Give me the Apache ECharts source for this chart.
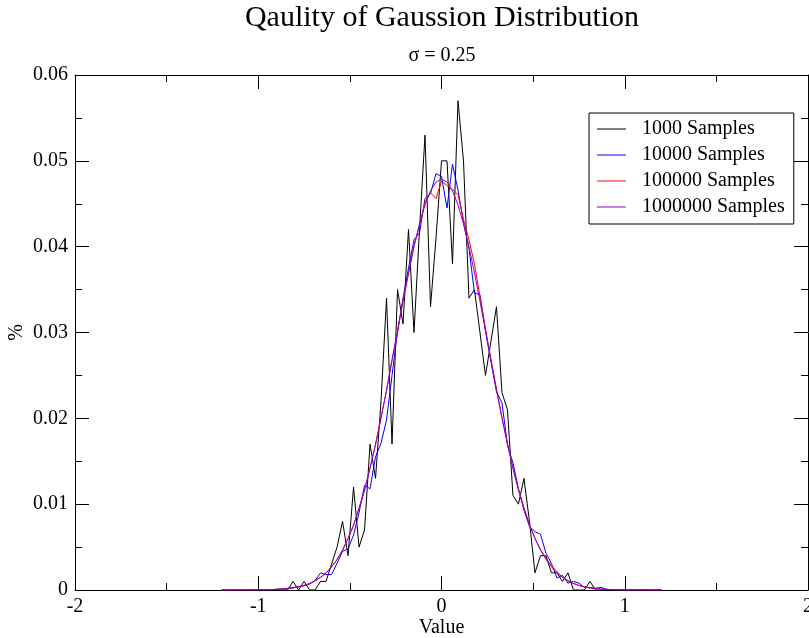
<!DOCTYPE html>
<html><head><meta charset="utf-8">
<script src="https://cdn.jsdelivr.net/npm/echarts@6/dist/echarts.min.js"></script>
<style>html,body{margin:0;padding:0;background:#fff}#c{width:809px;height:638px}</style>
</head><body><div id="c"></div>
<script>
// bin centres (Value)
const binCenters = [
 -1.20,-1.17,-1.14,-1.11,-1.08,-1.05,-1.02,-0.99,-0.96,-0.93,
 -0.90,-0.87,-0.84,-0.81,-0.78,-0.75,-0.72,-0.69,-0.66,-0.63,
 -0.60,-0.57,-0.54,-0.51,-0.48,-0.45,-0.42,-0.39,-0.36,-0.33,
 -0.30,-0.27,-0.24,-0.21,-0.18,-0.15,-0.12,-0.09,-0.06,-0.03,
 0,
 0.03,0.06,0.09,0.12,0.15,0.18,0.21,0.24,0.27,0.30,
 0.33,0.36,0.39,0.42,0.45,0.48,0.51,0.54,0.57,0.60,
 0.63,0.66,0.69,0.72,0.75,0.78,0.81,0.84,0.87,0.90,
 0.93,0.96,0.99,1.02,1.05,1.08,1.11,1.14,1.17,1.20
];
const samples1000 = [
 0,0,0,0,0,0,0,0,0,0,
 0,0,0,0.001,0,0.001,0,0,0.001,0.001,
 0.003,0.005,0.008,0.004,0.012,0.005,0.007,0.017,0.013,0.022,
 0.034,0.017,0.035,0.031,0.042,0.030,0.042,0.053,0.033,0.041,
 0.050,
 0.050,0.038,0.057,0.050,0.034,0.035,0.030,0.025,0.029,0.033,
 0.023,0.021,0.011,0.010,0.013,0.008,0.002,0.004,0.004,0.002,
 0.002,0.001,0.002,0,0,0,0.001,0,0,0,
 0,0,0,0,0,0,0,0,0,0
];
const samples10000 = [
 0,0,0,0,0,0,0,0,0,0,
 0.0001,0.0001,0.0002,0.0003,0.0004,0.0005,0.0007,0.0011,0.0020,0.0018,
 0.0018,0.0031,0.0045,0.0048,0.0064,0.0090,0.0122,0.0118,0.0155,0.0171,
 0.0198,0.0250,0.0301,0.0340,0.0375,0.0408,0.0416,0.0456,0.0462,0.0485,
 0.0482,
 0.0445,0.0496,0.0466,0.0428,0.0398,0.0346,0.0344,0.0302,0.0266,0.0231,
 0.0218,0.0169,0.0148,0.0118,0.0093,0.0074,0.0068,0.0065,0.0043,0.0031,
 0.0014,0.0017,0.0008,0.0010,0.0008,0.0003,0.0003,0.0002,0.0003,0.0001,
 0,0,0,0,0,0,0,0,0,0
];
const samples100000 = [
 0,0,0,0,0,0,0.00001,0.00002,0.00003,0.00005,
 0.00008,0.00011,0.00016,0.00026,0.00036,0.00055,0.00074,0.00108,0.00149,0.00196,
 0.00273,0.00351,0.00462,0.00604,0.00751,0.00955,0.01160,0.01425,0.01690,0.02012,
 0.02318,0.02684,0.03008,0.03378,0.03685,0.04012,0.04248,0.04515,0.04628,0.04560,
 0.04765,
 0.04712,0.04665,0.04608,0.04318,0.04080,0.03795,0.03420,0.03045,0.02690,0.02338,
 0.02010,0.01705,0.01422,0.01175,0.00958,0.00762,0.00605,0.00470,0.00372,0.00285,
 0.00212,0.00152,0.00110,0.00078,0.00052,0.00038,0.00024,0.00018,0.00010,0.00007,
 0.00004,0.00003,0.00002,0.00001,0,0,0,0,0,0
];
const samples1000000 = [
 0,0,0,0.000001,0.000004,0.000007,0.000012,0.000019,0.000031,0.000046,
 0.000074,0.000113,0.000168,0.000249,0.000372,0.000531,0.000762,0.001058,0.001473,0.001997,
 0.002693,0.003561,0.004647,0.005985,0.007577,0.009468,0.011672,0.014171,0.016985,0.020036,
 0.023292,0.026731,0.030187,0.033649,0.036928,0.039994,0.042671,0.044862,0.046518,0.047536,
 0.047862,
 0.047541,0.046503,0.044878,0.042650,0.039981,0.036957,0.033631,0.030211,0.026708,0.023305,
 0.020021,0.016992,0.014183,0.011661,0.009476,0.007569,0.005978,0.004655,0.003566,0.002687,
 0.002004,0.001466,0.001063,0.000757,0.000534,0.000368,0.000251,0.000171,0.000110,0.000071,
 0.000048,0.000030,0.000018,0.000012,0.000006,0.000004,0.000002,0,0,0
];
const seriesNames = ['1000 Samples','10000 Samples','100000 Samples','1000000 Samples'];
const seriesValues = [samples1000, samples10000, samples100000, samples1000000];
const seriesColors = ['#000000','#0000ff','#ff0000','#9400d3'];
const titleText = 'Qaulity of Gaussion Distribution';
const subtitleText = 'σ = 0.25';
const xAxisTitle = 'Value';
const yAxisTitle = '%';

const FONT = 'Liberation Serif';
const chart = echarts.init(document.getElementById('c'), null, {renderer: 'canvas'});

function frameAxis(pos, isX, showLabel) {
  return {
    type: 'value',
    position: pos,
    min: isX ? -2 : 0,
    max: isX ? 2 : 0.06,
    interval: isX ? 1 : 0.01,
    axisLine: {show: true, onZero: false, lineStyle: {color: '#000', width: 1}},
    axisTick: {show: true, inside: true, length: 14, lineStyle: {color: '#000', width: 1}},
    minorTick: {show: true, splitNumber: 2, length: 7, lineStyle: {color: '#000', width: 1}},
    splitLine: {show: false},
    minorSplitLine: {show: false},
    axisLabel: {show: showLabel, color: '#000', fontFamily: FONT, fontSize: 20,
      margin: 7, hideOverlap: false, showMinLabel: true, showMaxLabel: true,
      formatter: isX ? (v => String(v)) : (v => v === 0 ? '0' : v.toFixed(2))}
  };
}

const xBottom = frameAxis('bottom', true, true);
Object.assign(xBottom, {name: xAxisTitle, nameLocation: 'middle', nameGap: 28, nameMoveOverlap: false,
  nameTextStyle: {color: '#000', fontFamily: FONT, fontSize: 20}});
const xTop = frameAxis('top', true, false);
const yLeft = frameAxis('left', false, true);
Object.assign(yLeft, {name: yAxisTitle, nameLocation: 'middle', nameGap: 48, nameRotate: 90, nameMoveOverlap: false,
  nameTextStyle: {color: '#000', fontFamily: FONT, fontSize: 20}});
const yRight = frameAxis('right', false, false);

const series = seriesNames.map((name, i) => ({
  name: name,
  type: 'line',
  xAxisIndex: 0,
  yAxisIndex: 0,
  data: binCenters.map((x, j) => [x, seriesValues[i][j]]),
  showSymbol: false,
  symbol: 'none',
  lineStyle: {color: seriesColors[i], width: 1},
  itemStyle: {color: seriesColors[i]},
  animation: false,
  z: 2 + i
}));

chart.setOption({
  animation: false,
  backgroundColor: '#fff',
  grid: {left: 75, right: 1, top: 75, bottom: 48, containLabel: false, outerBoundsMode: 'none'},
  xAxis: [xBottom, xTop],
  yAxis: [yLeft, yRight],
  legend: {
    orient: 'vertical',
    left: 589, top: 113,
    padding: [6, 9, 7, 8],
    itemGap: 6,
    itemWidth: 29, itemHeight: 1,
    icon: 'rect',
    backgroundColor: '#fff',
    borderColor: '#000', borderWidth: 1,
    textStyle: {color: '#000', fontFamily: FONT, fontSize: 20, lineHeight: 20, padding: [0, 0, 0, 11]},
    data: seriesNames.map((n, i) => ({name: n, itemStyle: {color: seriesColors[i]}}))
  },
  graphic: [
    {type: 'text', x: 442, y: 18, style: {text: titleText, fill: '#000',
      font: '30px "Liberation Serif"', textAlign: 'center', textVerticalAlign: 'middle'}},
    {type: 'text', x: 442, y: 56, style: {text: subtitleText, fill: '#000',
      font: '20px "Liberation Serif"', textAlign: 'center', textVerticalAlign: 'middle'}}
  ],
  series: series
});
</script></body></html>
